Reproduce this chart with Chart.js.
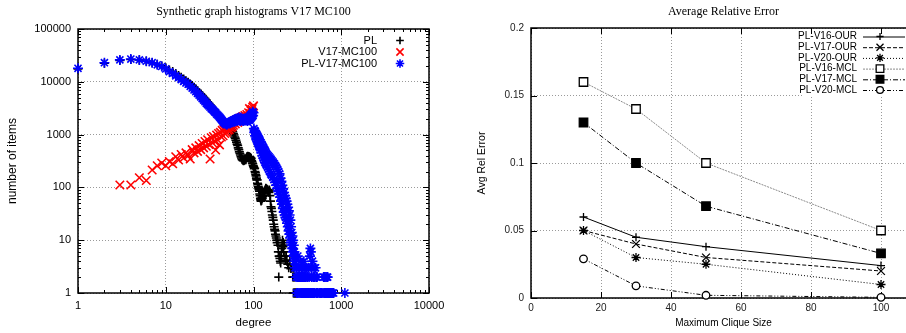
<!DOCTYPE html>
<html>
<head>
<meta charset="utf-8">
<script src="https://cdn.jsdelivr.net/npm/chart.js@4.4.0/dist/chart.umd.min.js"></script>
<style>
html, body { margin: 0; padding: 0; background: #fff; overflow: hidden; width: 906px; height: 333px; }
#left { position: absolute; left: 0; top: 0; }
#right { position: absolute; left: 453px; top: 0; }
</style>
</head>
<body>
<canvas id="left" width="453" height="333"></canvas>
<canvas id="right" width="480" height="333"></canvas>
<script>
// ---- left chart: degree histograms (degree, number of items) ----
const plHist = [
  [1,17500],[2,22500],[3,25500],[4,26500],[5,26000],[6,24500],[7,23000],[8,21500],[9,20000],[10,18500],
  [11,16800],[12,15600],[13,14300],[14,13200],[15,12200],[16,11300],[17,10500],[18,9800],[19,9100],[20,8500],
  [21,7900],[22,7300],[23,6800],[24,6300],[25,5900],[26,5500],[27,5100],[28,4800],[29,4500],[30,4200],
  [31,3900],[32,3650],[33,3450],[34,3250],[35,3050],[36,2850],[37,2700],[38,2550],[39,2400],[40,2250],
  [41,2150],[42,2050],[43,1950],[44,1850],[45,1750],[46,1700],[47,1620],[48,1550],[49,1500],[50,1450],
  [51,1420],[52,1380],[53,1350],[54,1320],[55,1280],[56,1250],[57,1200],[58,1130],[59,1050],[60,980],
  [61,900],[62,850],[63,780],[64,720],[65,660],[66,620],[67,560],[68,520],[69,470],[70,440],
  [71,410],[72,380],[73,360],[74,340],[75,335],[76,325],[77,320],[78,330],[79,325],[80,340],
  [81,350],[82,335],[83,360],[84,380],[85,370],[86,390],[87,375],[88,385],[89,370],[90,380],
  [91,360],[92,370],[93,340],[94,355],[95,320],[96,310],[97,290],[98,280],[99,260],[100,250],
  [101,240],[102,225],[103,230],[104,200],[105,190],[106,175],[107,165],[108,150],[109,140],[110,138],
  [111,120],[112,115],[113,105],[114,100],[115,95],[116,90],[117,85],[118,75],[119,70],[120,62],
  [121,58],[122,55],[123,60],[124,57],[125,65],[126,62],[127,70],[128,68],[130,75],[132,80],
  [134,86],[136,90],[138,96],[140,94],[142,92],[144,90],[146,88],[148,84],[150,80],[152,89],
  [154,70],[156,55],[158,43],[160,40],[162,35],[164,30],[166,27],[168,24],[170,20],[172,18],
  [174,16],[176,15],[178,13],[180,12],[182,11],[184,10],[186,9],[188,10],[190,8],[192,6],
  [194,2],[196,5],[198,4.9],[200,4.5],[202,4],[204,3.7],[206,5],[208,6],[210,7],[212,8],
  [214,10],[216,7.5],[218,9],[220,6],[224,8],[228,5],[232,4.2],[236,5],[240,4],[246,3.5],
  [252,3],[260,4],[267,2.9],[272,3],[280,2],[284,3],[288,2],[292,2],
  [285,1],[290,1],[295,1],[300,1],[305,1],[310,1],[315,1]
];

const v17Hist = [
  [3,111],[4,111],[5,152],[6,135],[7,214],[8,257],[9,290],[10,257],[11,310],[12,280],
  [13,380],[14,330],[15,420],[16,360],[17,450],[18,400],[19,345],[20,520],[21,450],[22,560],
  [23,480],[24,620],[25,520],[26,680],[27,560],[28,740],[29,600],[30,800],[31,650],[32,345],
  [33,870],[34,700],[35,920],[36,750],[37,510],[38,980],[39,800],[40,1050],[41,640],[42,1100],
  [43,900],[44,1200],[45,950],[46,1250],[47,1050],[48,1300],[49,1100],[50,1350],[51,1200],[52,1400],
  [53,1250],[54,1500],[55,1350],[56,1600],[57,1400],[58,1700],[59,1500],[60,1800],[62,1600],[64,1900],
  [66,1700],[68,2000],[70,1800],[72,2100],[74,1900],[76,2200],[78,2000],[80,2300],[82,2100],[84,2400],
  [86,2200],[88,2600],[90,3100],[92,2500],[94,2800],[96,3000],[98,3300],[100,3500]
];

const mixHist = [
  [1,18000],[2,23000],[3,26000],[4,27000],[5,26000],[6,24500],[7,23000],[8,21000],[9,19500],[10,17500],
  [11,15500],[12,14500],[13,13000],[14,12000],[15,11000],[16,10200],[17,9500],[18,9000],[19,8200],[20,7600],
  [21,7000],[22,6500],[23,6000],[24,5600],[25,5200],[26,4800],[27,4500],[28,4200],[29,3900],[30,3700],
  [31,3500],[32,3300],[33,3100],[34,3000],[35,2850],[36,2700],[37,2600],[38,2450],[39,2350],[40,2250],
  [41,2150],[42,2050],[43,1950],[44,1850],[45,1750],[46,1700],[47,1650],[48,1600],[49,1550],[50,1550],
  [51,1600],[52,1650],[53,1700],[54,1650],[55,1750],[56,1800],[57,1700],[58,1850],[59,1800],[60,1900],
  [61,1750],[62,1950],[63,1850],[64,2000],[65,1800],[66,2050],[67,1900],[68,2100],[69,1850],[70,2000],
  [71,1800],[72,2100],[73,1900],[74,1850],[75,2000],[76,1800],[77,1950],[78,1850],[79,2000],[80,1900],
  [81,1850],[82,2050],[83,1900],[84,2000],[85,1800],[86,2100],[87,1900],[88,2000],[89,1850],[90,2200],
  [91,1900],[92,2300],[93,2000],[94,2400],[95,2100],[96,2500],[97,2200],[98,2700],[99,2300],[100,2600],
  [101,1300],[102,1100],[103,1200],[104,950],[105,1150],[106,900],[107,1050],[108,800],[109,1000],[110,750],
  [111,950],[112,700],[113,900],[114,650],[115,850],[116,600],[117,800],[118,560],[119,750],[120,520],
  [122,700],[123,450],[125,650],[126,400],[128,600],[129,360],[131,560],[132,330],[134,520],[135,300],
  [137,480],[138,280],[140,440],[141,260],[143,420],[145,240],[147,400],[149,220],[151,380],[153,200],
  [155,360],[157,180],[159,340],[161,170],[163,320],[166,155],[168,300],[171,140],[173,280],[176,125],
  [178,260],[181,110],[183,240],[186,95],[188,220],[191,85],[193,200],[196,75],[198,180],[201,65],
  [203,150],[206,55],[208,130],[211,48],[213,110],[216,40],[218,95],[221,34],[223,80],[226,30],
  [228,70],[231,27],[233,62],[236,25],[238,55],[241,21],[243,48],[246,18],[248,42],[251,15],
  [253,36],[256,13],[258,30],[261,11],[263,24],[266,9],[268,18],[271,8],[273,14],[276,7],
  [278,12],[281,6],[283,10],[286,5],[288,8],[291,4],[293,6],[296,3],[298,5],
  [300,4],[305,2],[310,3],[315,2],[320,5],[325,2],[330,3],[335,2],[340,4],[345,2],
  [350,3],[355,2],[360,2],[365,3],[370,2],[375,4],[380,2],[385,3],[390,2],[395,2],
  [400,3],[410,2],[420,3],[430,2],[440,5],[445,7],[450,6],[455,3],[460,2],[470,4],
  [480,2],[490,3],[500,2],[510,3],[520,2],[530,2],[630,2],[650,2],[670,2],[690,2],[700,2],
  [310,1],[320,1],[330,1],[340,1],[350,1],[360,1],[370,1],[380,1],[390,1],[400,1],
  [410,1],[420,1],[430,1],[440,1],[450,1],[460,1],[470,1],[480,1],[490,1],[500,1],
  [520,1],[540,1],[560,1],[580,1],[600,1],[620,1],[640,1],[660,1],[680,1],[700,1],
  [720,1],[740,1],[760,1],[780,1],[800,1],[820,1],[1100,1]
];

const degreeTicks = [1, 10, 100, 1000, 10000];
const countTicks = [1, 10, 100, 1000, 10000, 100000];

// ---- right chart: average relative error vs maximum clique size ----
const cliqueSizes = [15, 30, 50, 100];
const v16Our = [0.060, 0.045, 0.038, 0.024];
const v17Our = [0.050, 0.040, 0.030, 0.020];
const v20Our = [0.050, 0.030, 0.025, 0.010];
const v16Mcl = [0.160, 0.140, 0.100, 0.050];
const v17Mcl = [0.130, 0.100, 0.068, 0.033];
const v20Mcl = [0.029, 0.009, 0.002, 0.0005];

const cliqueTicks = [0, 20, 40, 60, 80, 100];
const errorTicks = [0, 0.05, 0.1, 0.15, 0.2];

Chart.defaults.font.family = '"Liberation Sans", Arial, sans-serif';
Chart.defaults.color = '#000';

const toXY = pairs => pairs.map(p => ({ x: p[0], y: p[1] }));
const zipXY = (xs, ys) => xs.map((x, i) => ({ x: x, y: ys[i] }));

// gnuplot-like frame, inward ticks, titles and legend
const gnuplotFrame = {
  id: 'gnuplotFrame',
  beforeDatasetsDraw(chart, args, o) {
    const ctx = chart.ctx;
    const a = chart.chartArea;
    const xs = chart.scales.x, ys = chart.scales.y;
    const line = (x0, y0, x1, y1) => { ctx.beginPath(); ctx.moveTo(x0, y0); ctx.lineTo(x1, y1); ctx.stroke(); };
    ctx.save();

    if (o.boxW) {
      ctx.fillStyle = '#fff';
      ctx.fillRect(o.boxX, o.boxY, o.boxW, o.boxH);
    }

    ctx.strokeStyle = '#000';
    ctx.setLineDash([]);
    ctx.lineWidth = 1;
    xs.ticks.forEach(t => {
      const p = Math.round(xs.getPixelForValue(t.value)) + 0.5;
      line(p, a.bottom, p, a.bottom - o.major);
      line(p, a.top, p, a.top + o.major);
    });
    ys.ticks.forEach(t => {
      const p = Math.round(ys.getPixelForValue(t.value)) + 0.5;
      line(a.left, p, a.left + o.major, p);
      line(a.right, p, a.right - o.major, p);
    });
    if (o.logMinor) {
      [xs, ys].forEach(s => {
        for (let dec = s.min; dec < s.max; dec *= 10) {
          for (let k = 2; k <= 9; k++) {
            const p = Math.round(s.getPixelForValue(dec * k)) + 0.5;
            if (s === xs) { line(p, a.bottom, p, a.bottom - o.minor); line(p, a.top, p, a.top + o.minor); }
            else { line(a.left, p, a.left + o.minor, p); line(a.right, p, a.right - o.minor, p); }
          }
        }
      });
    }
    ctx.lineWidth = 1.5;
    ctx.strokeRect(a.left, a.top, a.right - a.left, a.bottom - a.top);

    ctx.fillStyle = '#000';
    ctx.textAlign = 'center';
    ctx.textBaseline = 'middle';
    ctx.font = o.titleFont;
    ctx.fillText(o.title, (a.left + a.right) / 2, o.titleY);
    ctx.font = o.xAxisFont;
    ctx.fillText(o.xTitle, (a.left + a.right) / 2, o.xTitleY);
    ctx.save();
    ctx.font = o.yAxisFont;
    ctx.translate(o.yTitleX, (a.top + a.bottom) / 2);
    ctx.rotate(-Math.PI / 2);
    ctx.fillText(o.yTitle, 0, 0);
    ctx.restore();

    ctx.font = o.legendFont;
    chart.data.datasets.forEach((ds, i) => {
      const y = o.legendY + i * o.legendStep;
      ctx.fillStyle = '#000';
      ctx.textAlign = 'right';
      ctx.fillText(ds.label, o.legendTextX, y);
      if (ds.showLine) {
        ctx.strokeStyle = ds.borderColor;
        ctx.lineWidth = ds.borderWidth;
        ctx.setLineDash(ds.borderDash || []);
        line(o.sampleX0, y + 0.5, o.sampleX1, y + 0.5);
        ctx.setLineDash([]);
      }
      ctx.strokeStyle = ds.pointBorderColor;
      ctx.fillStyle = ds.pointBackgroundColor;
      ctx.lineWidth = ds.pointBorderWidth;
      Chart.helpers.drawPoint(ctx, {
        pointStyle: ds.pointStyle, radius: ds.pointRadius * o.legendScale,
        borderWidth: ds.pointBorderWidth, rotation: 0
      }, o.markerX, y);
    });
    ctx.restore();
  }
};

const pointSet = (label, pairs, style, color, radius, order) => ({
  label: label, data: toXY(pairs), order: order, clip: false,
  pointStyle: style, pointRadius: radius, pointBorderWidth: 1.6,
  pointBorderColor: color, pointBackgroundColor: color, showLine: false
});

new Chart(document.getElementById('left'), {
  type: 'scatter',
  data: {
    datasets: [
      pointSet('PL', plHist, 'cross', '#000000', 4.5, 3),
      pointSet('V17-MC100', v17Hist, 'crossRot', '#ff0000', 6, 2),
      pointSet('PL-V17-MC100', mixHist, 'star', '#0000ff', 5, 1)
    ]
  },
  options: {
    responsive: false,
    animation: false,
    events: [],
    layout: { autoPadding: false, padding: { left: 4, top: 29, right: 24, bottom: 0 } },
    plugins: {
      legend: { display: false },
      title: { display: false },
      tooltip: { enabled: false },
      gnuplotFrame: {
        title: 'Synthetic graph histograms V17 MC100', titleY: 12,
        titleFont: '12px "Liberation Serif", "Times New Roman", serif',
        xTitle: 'degree', xTitleY: 323, yTitle: 'number of items', yTitleX: 13,
        xAxisFont: '11.5px "Liberation Sans", Arial, sans-serif',
        yAxisFont: '12px "Liberation Sans", Arial, sans-serif',
        legendFont: '11px "Liberation Sans", Arial, sans-serif',
        legendY: 40.5, legendStep: 11.5, legendTextX: 377, markerX: 400, legendScale: 0.85,
        sampleX0: 0, sampleX1: 0,
        major: 6, minor: 3, logMinor: true, boxW: 0
      }
    },
    scales: {
      x: {
        type: 'logarithmic', min: 1, max: 10000,
        afterBuildTicks: s => { s.ticks = degreeTicks.map(v => ({ value: v })); },
        afterFit: s => { s.height = 40; },
        ticks: { font: { size: 11 }, padding: 6, autoSkip: false, maxRotation: 0, callback: v => String(v) },
        grid: { color: '#9a9a9a', lineWidth: 1, drawTicks: false },
        border: { display: false, dash: [1, 2] }
      },
      y: {
        type: 'logarithmic', min: 1, max: 100000,
        afterBuildTicks: s => { s.ticks = countTicks.map(v => ({ value: v })); },
        afterFit: s => { s.width = 74; },
        ticks: { font: { size: 11 }, padding: 7, autoSkip: false, callback: v => String(v) },
        grid: { color: '#9a9a9a', lineWidth: 1, drawTicks: false },
        border: { display: false, dash: [1, 2] }
      }
    }
  },
  plugins: [gnuplotFrame]
});

const lineSet = (label, values, dash, lineColor, style, radius, fill, order) => ({
  label: label, data: zipXY(cliqueSizes, values), order: order, clip: false,
  showLine: true, borderColor: lineColor, borderWidth: 1, borderDash: dash,
  pointStyle: style, pointRadius: radius, pointBorderWidth: 1.3,
  pointBorderColor: '#000', pointBackgroundColor: fill
});

new Chart(document.getElementById('right'), {
  type: 'scatter',
  data: {
    datasets: [
      lineSet('PL-V16-OUR', v16Our, [], '#000', 'cross', 4, '#000', 1),
      lineSet('PL-V17-OUR', v17Our, [4, 2], '#000', 'crossRot', 5.5, '#000', 2),
      lineSet('PL-V20-OUR', v20Our, [1, 2], '#000', 'star', 4.5, '#000', 3),
      lineSet('PL-V16-MCL', v16Mcl, [2, 1], '#8a8a8a', 'rect', 6, '#fff', 4),
      lineSet('PL-V17-MCL', v17Mcl, [5, 2, 1, 2], '#000', 'rect', 6, '#000', 5),
      lineSet('PL-V20-MCL', v20Mcl, [4, 2, 1, 2, 1, 2], '#000', 'circle', 3.8, '#fff', 6)
    ]
  },
  options: {
    responsive: false,
    animation: false,
    events: [],
    layout: { autoPadding: false, padding: { left: 0, top: 28, right: 17, bottom: 0 } },
    plugins: {
      legend: { display: false },
      title: { display: false },
      tooltip: { enabled: false },
      gnuplotFrame: {
        title: 'Average Relative Error', titleY: 12,
        titleFont: '12px "Liberation Serif", "Times New Roman", serif',
        xTitle: 'Maximum Clique Size', xTitleY: 323, yTitle: 'Avg Rel Error', yTitleX: 29.5,
        xAxisFont: '10px "Liberation Sans", Arial, sans-serif',
        yAxisFont: '10.5px "Liberation Sans", Arial, sans-serif',
        legendFont: '10px "Liberation Sans", Arial, sans-serif',
        legendY: 36.5, legendStep: 10.7, legendTextX: 404, markerX: 427, legendScale: 0.9,
        sampleX0: 410, sampleX1: 452,
        major: 6, minor: 3, logMinor: false,
        boxX: 350, boxY: 29, boxW: 130, boxH: 67
      }
    },
    scales: {
      x: {
        type: 'linear', min: 0, max: 110,
        afterBuildTicks: s => { s.ticks = cliqueTicks.map(v => ({ value: v })); },
        afterFit: s => { s.height = 35; },
        ticks: { font: { size: 10 }, color: '#222', padding: 4, autoSkip: false, maxRotation: 0, callback: v => String(v) },
        grid: { color: '#9a9a9a', lineWidth: 1, drawTicks: false },
        border: { display: false, dash: [1, 2] }
      },
      y: {
        type: 'linear', min: 0, max: 0.2,
        afterBuildTicks: s => { s.ticks = errorTicks.map(v => ({ value: v })); },
        afterFit: s => { s.width = 78; },
        ticks: { font: { size: 10 }, color: '#222', padding: 7, autoSkip: false, callback: v => String(v) },
        grid: { color: '#9a9a9a', lineWidth: 1, drawTicks: false },
        border: { display: false, dash: [1, 2] }
      }
    }
  },
  plugins: [gnuplotFrame]
});
</script>
</body>
</html>
